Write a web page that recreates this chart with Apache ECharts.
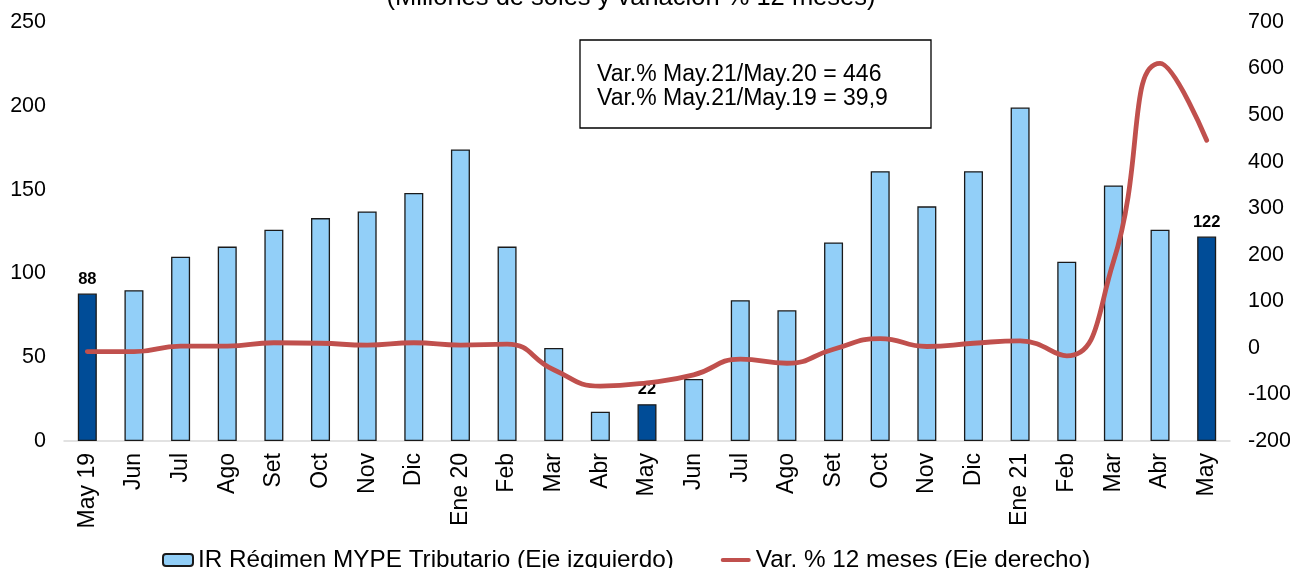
<!DOCTYPE html>
<html>
<head>
<meta charset="utf-8">
<title>IR Régimen MYPE Tributario</title>
<script src="https://cdn.jsdelivr.net/npm/echarts@6/dist/echarts.min.js"></script>
<style>
  html, body { margin: 0; padding: 0; background: #fff; }
  #chart { width: 1290px; height: 568px; }
</style>
</head>
<body>
<div id="chart"></div>
<script>
// meses
var categorias = ["May 19", "Jun", "Jul", "Ago", "Set", "Oct", "Nov", "Dic", "Ene 20", "Feb", "Mar", "Abr",
  "May", "Jun", "Jul", "Ago", "Set", "Oct", "Nov", "Dic", "Ene 21", "Feb", "Mar", "Abr", "May"];
// millones de soles (eje izquierdo)
var recaudacion = [88, 90, 110, 116, 126, 133, 137, 148, 174, 116, 55.5, 17.5,
  22, 37, 84, 78, 118.5, 161, 140, 161, 199, 107, 152.5, 126, 122];
// var. % 12 meses (eje derecho)
var variacion = [-8, -8, 4, 4, 11, 10, 6, 11, 6, 8, -47, -82,
  -75, -58, -24, -33, -3, 20, 3, 10, 15, -17, 185, 611, 446];
// meses resaltados (barra oscura + etiqueta)
var resaltados = [0, 12, 24];

var nombreBarras = "IR Régimen MYPE Tributario (Eje izquierdo)";
var nombreLinea = "Var. % 12 meses (Eje derecho)";
var fuente = "'Liberation Sans', Arial, sans-serif";

var myChart = echarts.init(document.getElementById("chart"));

var datosBarras = recaudacion.map(function (v, i) {
  var marcado = resaltados.indexOf(i) >= 0;
  return {
    value: v,
    itemStyle: { color: marcado ? "#004c97" : "#92cff8" },
    label: { show: marcado }
  };
});

myChart.setOption({
  animation: false,
  textStyle: { fontFamily: fuente },
  grid: { left: 64, right: 60, top: 22, bottom: 127, outerBoundsMode: "none" },
  legend: {
    left: 157,
    top: 543,
    itemGap: 47,
    itemWidth: 30,
    itemHeight: 12,
    textStyle: { fontSize: 24.3, color: "#000", fontFamily: fuente },
    data: [
      { name: nombreBarras },
      { name: nombreLinea, icon: "path://M2,0 L28,0 A2,2 0 0 1 28,4 L2,4 A2,2 0 0 1 2,0 Z" }
    ]
  },
  xAxis: {
    type: "category",
    data: categorias,
    axisLine: { lineStyle: { color: "#d9d9d9", width: 1.5 } },
    axisTick: { show: false },
    axisLabel: { rotate: 90, fontSize: 23, color: "#000", margin: 12, interval: 0 }
  },
  yAxis: [
    {
      type: "value",
      min: 0,
      max: 250,
      interval: 50,
      splitLine: { show: false },
      axisLine: { show: false },
      axisLabel: { fontSize: 21.5, color: "#000", margin: 18 }
    },
    {
      type: "value",
      min: -200,
      max: 700,
      interval: 100,
      splitLine: { show: false },
      axisLine: { show: false },
      axisLabel: { fontSize: 21.5, color: "#000", margin: 18 }
    }
  ],
  series: [
    {
      name: nombreBarras,
      type: "bar",
      yAxisIndex: 0,
      barWidth: 19,
      itemStyle: { color: "#92cff8", borderColor: "#1a1a1a", borderWidth: 1.3 },
      label: {
        position: "top",
        distance: 6,
        fontSize: 16.5,
        fontWeight: "bold",
        color: "#000"
      },
      data: datosBarras
    },
    {
      name: nombreLinea,
      type: "line",
      yAxisIndex: 1,
      smooth: 0.5,
      symbol: "none",
      lineStyle: { color: "#c0504d", width: 4.8, cap: "round" },
      itemStyle: { color: "#c0504d" },
      data: variacion,
      z: 5
    }
  ],
  graphic: [
    {
      type: "text",
      x: 631,
      y: 11,
      style: {
        text: "(Millones de soles y variación % 12 meses)",
        align: "center",
        verticalAlign: "bottom",
        font: "25.5px " + fuente,
        fill: "#000"
      }
    },
    {
      type: "rect",
      shape: { x: 580, y: 40, width: 351, height: 88 },
      style: { fill: "#fff", stroke: "#000", lineWidth: 1.3 },
      z: 10
    },
    {
      type: "text",
      x: 597,
      y: 87,
      z: 11,
      style: {
        text: "Var.% May.21/May.20 = 446\nVar.% May.21/May.19 = 39,9",
        verticalAlign: "middle",
        font: "23px " + fuente,
        lineHeight: 24,
        fill: "#000"
      }
    }
  ]
});
</script>
</body>
</html>
